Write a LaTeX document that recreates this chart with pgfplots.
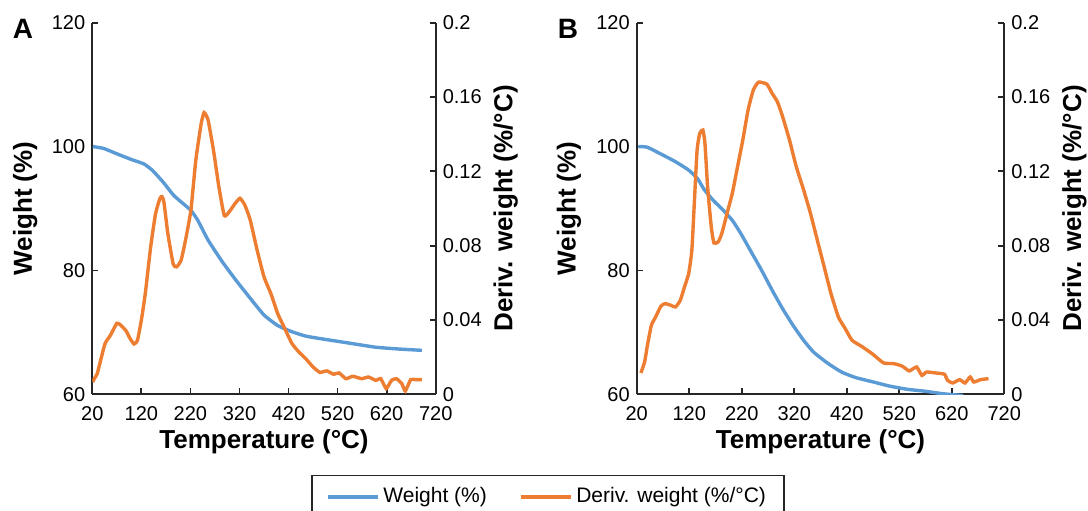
\documentclass[border=0pt]{standalone}
\usepackage{fontspec}
\setmainfont{Liberation Sans}
\usepackage{pgfplots}
\pgfplotsset{compat=1.18}
\definecolor{wblue}{HTML}{5B9BD5}
\definecolor{dorange}{HTML}{ED7D31}
\pgfplotsset{
  common/.style={
    scale only axis, anchor=south west,
    height=185.8pt,
    xmin=20, xmax=720,
    xtick={20,120,220,320,420,520,620,720},
    tick align=inside,
    major tick length=3pt,
    major tick style={line width=0.9pt, black!85},
    axis line style={-, line width=0.9pt, black!85},
    tick label style={font=\fontsize{10}{12}\selectfont, black},
    xticklabel style={yshift=-2.5pt},
    /pgf/number format/assume math mode=true,
    label style={font=\bfseries\fontsize{13}{15}\selectfont},
    clip=true,
  },
  leftax/.style={
    common,
    axis x line*=bottom, axis y line*=left,
    ymin=60, ymax=120, ytick={60,80,100,120},
    xlabel={Temperature (°C)},
    ylabel={Weight (\%)},
    xlabel style={at={(axis description cs:0.5,0)}, anchor=center, yshift=-23.5pt},
    ylabel style={at={(axis description cs:#1,0.5)}, anchor=center},
  },
  rightax/.style={
    common,
    axis x line=none, axis y line*=right,
    ymin=0, ymax=0.2, ytick={0,0.04,0.08,0.12,0.16,0.2},
    yticklabels={0,0.04,0.08,0.12,0.16,0.2},
    ylabel={Deriv. weight (\%/°C)},
    ylabel style={at={(axis description cs:#1,0.5)}, anchor=center},
  },
  bl/.style={wblue, line width=1.7pt, smooth, tension=0.3},
  or/.style={dorange, line width=1.7pt, smooth, tension=0.3},
}
\begin{document}
\begin{tikzpicture}
\path[use as bounding box] (0pt,0pt) rectangle (544pt,255pt);
% ---------------- Panel A
\begin{axis}[leftax=-0.195, at={(46.15pt,57.85pt)}, width=171.7pt,
  legend columns=2,
  legend style={at={(axis description cs:1.327,-0.2172)}, anchor=north,
    draw=black!85, line width=0.7pt, font=\fontsize{10.5}{12}\selectfont,
    inner xsep=7pt, inner ysep=4pt,
    /tikz/every even column/.append style={column sep=14pt}},
  legend image code/.code={\draw[#1] (0pt,0pt) -- (25pt,0pt);},
]
\addplot[bl] coordinates {
(21,100) (43,99.7) (71,98.8) (100,97.9) (125,97.2) (142,96.2) (164,94.3) (185,92.2)
(199,91.2) (221,89.7) (235,88.1) (256,84.9) (285,81.4) (313,78.4) (342,75.5) (370,72.8)
(398,71.1) (427,70.1) (455,69.4) (484,69.0) (541,68.3) (598,67.6) (647,67.3) (692,67.1)
};
\addlegendentry{Weight (\%)}
\addlegendimage{or}
\addlegendentry{Deriv. weight (\%/°C)}
\end{axis}
\begin{axis}[rightax=1.204, at={(46.15pt,57.85pt)}, width=171.7pt]
\addplot[or] coordinates {
(21,0.0065) (23,0.0079) (30,0.0111) (37,0.0183) (46,0.0273) (57,0.0318) (70,0.0382)
(78,0.0372) (89,0.0341) (97,0.0300) (105,0.0271) (112,0.0290) (120,0.0399) (128,0.0542)
(139,0.0794) (149,0.0973) (158,0.1055) (162,0.1064) (166,0.1035) (174,0.0865)
(185,0.0700) (192,0.0686) (201,0.0722) (210,0.0829) (221,0.0991) (231,0.1260)
(242,0.1458) (248,0.1516) (256,0.1476) (267,0.1314) (278,0.1117) (289,0.0962)
(299,0.0982) (310,0.1023) (321,0.1055) (331,0.1018) (342,0.0937) (356,0.0776)
(370,0.0632) (384,0.0542) (398,0.0434) (413,0.0350) (427,0.0273) (441,0.0228)
(455,0.0192) (470,0.0147) (484,0.0118) (498,0.0126) (512,0.0108) (523,0.0115)
(537,0.0084) (551,0.0097) (569,0.0084) (583,0.0093) (598,0.0075) (608,0.0084)
(619,0.0031) (630,0.0075) (640,0.0084) (651,0.0057) (658,0.0018) (669,0.0079)
(679,0.0079) (692,0.0079)
};
\end{axis}
% ---------------- Panel B
\begin{axis}[leftax=-0.184, at={(318.35pt,57.85pt)}, width=183.8pt]
\addplot[bl] coordinates {
(23,100) (40,99.9) (66,98.8) (93,97.6) (119,96.2) (136,94.8) (149,93.0) (166,91.3)
(185,89.7) (202,88.1) (218,86.0) (238,83.0) (258,80.0) (278,76.8) (298,73.8)
(318,71.1) (338,68.7) (357,66.8) (384,65.0) (410,63.6) (437,62.7) (470,62.0)
(503,61.3) (536,60.8) (569,60.5) (602,60.1) (642,59.8)
};
\end{axis}
\begin{axis}[rightax=1.191, at={(318.35pt,57.85pt)}, width=183.8pt]
\addplot[or] coordinates {
(28,0.0115) (35,0.0174) (41,0.0273) (48,0.0372) (56,0.0416) (66,0.0474) (74,0.0488)
(85,0.0479) (94,0.0470) (103,0.0506) (111,0.0578) (119,0.0650) (125,0.0775)
(130,0.1045) (135,0.1314) (140,0.1404) (146,0.1422) (150,0.1350) (155,0.1117)
(162,0.0901) (167,0.0815) (175,0.0820) (182,0.0865) (192,0.0973) (202,0.1081)
(212,0.1224) (222,0.1368) (232,0.1529) (242,0.1637) (252,0.1680) (268,0.1669)
(278,0.1619) (288,0.1574) (298,0.1493) (311,0.1368) (324,0.1224) (338,0.1099)
(351,0.0973) (364,0.0829) (377,0.0686) (390,0.0542) (404,0.0416) (417,0.0354)
(430,0.0291) (450,0.0255) (470,0.0215) (490,0.0169) (510,0.0165) (526,0.0151)
(539,0.0126) (553,0.0147) (563,0.0102) (572,0.0120) (589,0.0115) (606,0.0108)
(612,0.0075) (622,0.0061) (635,0.0079) (645,0.0061) (655,0.0093) (662,0.0066)
(675,0.0079) (690,0.0084)
};
\end{axis}
\node[font=\bfseries\fontsize{14}{16}\selectfont] at (11.5pt,240.8pt) {A};
\node[font=\bfseries\fontsize{14}{16}\selectfont] at (284pt,240.8pt) {B};
\end{tikzpicture}
\end{document}
